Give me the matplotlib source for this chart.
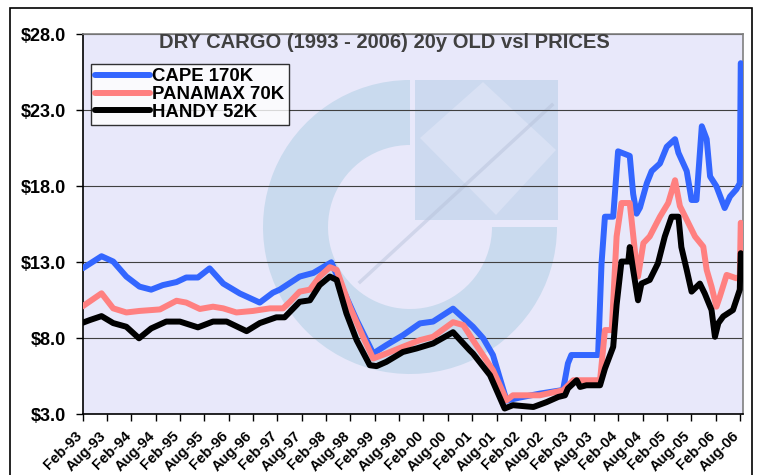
import matplotlib

matplotlib.use("Agg")
import matplotlib.pyplot as plt
from matplotlib.patches import Wedge, Rectangle, Polygon
from matplotlib.transforms import IdentityTransform, ScaledTranslation

# decimal years
CAPE_T = [1993.08, 1993.47, 1993.71, 1993.98, 1994.25, 1994.49, 1994.73, 1995.01, 1995.21, 1995.45,
          1995.69, 1995.97, 1996.31, 1996.72, 1996.99, 1997.13, 1997.54, 1997.82, 1998.19, 1998.43,
          1998.71, 1999.05, 1999.32, 1999.66, 2000.01, 2000.28, 2000.69, 2001.10, 2001.31, 2001.51,
          2001.79, 2002.06, 2002.47, 2002.95, 2003.05, 2003.12, 2003.67, 2003.74, 2003.81, 2003.98,
          2004.08, 2004.32, 2004.39, 2004.46, 2004.53, 2004.67, 2004.77, 2004.94, 2005.08, 2005.25,
          2005.32, 2005.49, 2005.59, 2005.69, 2005.80, 2005.90, 2005.97, 2006.10, 2006.27, 2006.38,
          2006.51, 2006.58, 2006.60]
CAPE_V = [12.6, 13.4, 13.05, 12.06, 11.4, 11.2, 11.5, 11.7, 12.0, 12.0,
          12.6, 11.6, 10.95, 10.35, 11.0, 11.2, 12.06, 12.3, 13.0, 11.2,
          9.2, 7.0, 7.55, 8.2, 8.98, 9.1, 9.95, 8.76, 8.0, 6.9,
          3.9, 4.1, 4.36, 4.6, 6.35, 6.9, 6.9, 12.9, 16.0, 16.0,
          20.3, 20.0, 17.5, 16.2, 16.6, 18.2, 19.0, 19.5, 20.6, 21.1,
          20.2, 19.0, 17.1, 17.1, 21.95, 21.1, 18.65, 18.0, 16.57, 17.33,
          17.8, 18.2, 26.1]

PANAMAX_T = [1993.08, 1993.47, 1993.71, 1993.98, 1994.25, 1994.67, 1995.01, 1995.21, 1995.49, 1995.76,
             1995.97, 1996.24, 1996.58, 1996.93, 1997.20, 1997.34, 1997.54, 1997.75, 1997.95, 1998.16,
             1998.30, 1998.57, 1998.84, 1999.05, 1999.32, 1999.66, 2000.01, 2000.28, 2000.69, 2000.90,
             2001.10, 2001.51, 2001.79, 2001.92, 2002.47, 2002.95, 2003.16, 2003.71, 2003.77, 2003.81,
             2003.95, 2004.05, 2004.15, 2004.32, 2004.43, 2004.49, 2004.60, 2004.73, 2004.94, 2005.11,
             2005.25, 2005.35, 2005.49, 2005.66, 2005.83, 2005.90, 2006.00, 2006.10, 2006.17, 2006.31,
             2006.51, 2006.58, 2006.60]
PANAMAX_V = [10.1, 10.96, 9.97, 9.7, 9.8, 9.9, 10.47, 10.35, 9.93, 10.08,
             9.97, 9.7, 9.8, 9.97, 9.97, 10.4, 11.07, 11.2, 12.06, 12.68,
             12.5, 10.08, 8.1, 6.67, 7.0, 7.44, 7.88, 8.1, 9.06, 8.87,
             7.88, 5.9, 3.92, 4.25, 4.25, 4.58, 5.24, 5.24, 7.2, 8.54,
             8.54, 14.7, 16.9, 16.9, 13.6, 12.06, 14.26, 14.7, 16.0, 16.9,
             18.4, 16.7, 15.8, 14.7, 14.03, 12.5, 11.4, 10.08, 10.74, 12.17,
             11.95, 12.06, 15.6]

HANDY_T = [1993.08, 1993.23, 1993.47, 1993.71, 1993.98, 1994.24, 1994.49, 1994.80, 1995.08, 1995.45,
           1995.76, 1996.04, 1996.45, 1996.72, 1997.06, 1997.23, 1997.54, 1997.75, 1997.95, 1998.16,
           1998.30, 1998.50, 1998.71, 1998.98, 1999.12, 1999.32, 1999.66, 1999.94, 2000.28, 2000.69,
           2001.03, 2001.10, 2001.45, 2001.75, 2001.92, 2002.34, 2002.61, 2002.85, 2002.99, 2003.05,
           2003.23, 2003.30, 2003.43, 2003.71, 2003.81, 2003.98, 2004.05, 2004.15, 2004.29, 2004.32,
           2004.39, 2004.49, 2004.56, 2004.73, 2004.90, 2005.04, 2005.18, 2005.32, 2005.38, 2005.49,
           2005.59, 2005.76, 2005.86, 2006.00, 2006.07, 2006.14, 2006.24, 2006.44, 2006.58, 2006.60]
HANDY_V = [9.02, 9.2, 9.46, 9.0, 8.76, 8.0, 8.65, 9.1, 9.1, 8.72,
           9.1, 9.1, 8.47, 9.0, 9.38, 9.38, 10.4, 10.5, 11.5, 12.06,
           11.84, 9.64, 7.88, 6.23, 6.17, 6.45, 7.1, 7.33, 7.66, 8.4,
           7.22, 7.0, 5.57, 3.38, 3.6, 3.48, 3.8, 4.14, 4.25, 4.7,
           5.24, 4.8, 4.91, 4.91, 6.0, 7.44, 10.2, 13.05, 13.05, 14.0,
           12.5, 10.5, 11.6, 11.84, 12.94, 14.7, 16.0, 16.0, 14.0, 12.5,
           11.07, 11.6, 10.95, 9.86, 8.1, 9.0, 9.44, 9.86, 11.2, 13.6]

YEARS = list(range(1993, 2007))
Y_TICKS = [3.0, 8.0, 13.0, 18.0, 23.0, 28.0]

SERIES = [
    ("CAPE 170K", CAPE_T, CAPE_V, "#3366FF"),
    ("PANAMAX 70K", PANAMAX_T, PANAMAX_V, "#FF8080"),
    ("HANDY 52K", HANDY_T, HANDY_V, "#000000"),
]

plt.rcParams["font.family"] = ["Liberation Sans", "DejaVu Sans"]
plt.rcParams["font.weight"] = "bold"

fig = plt.figure(figsize=(7.6, 4.75), dpi=100)
fig.patch.set_facecolor("white")
fig.patches.append(Rectangle((10 / 760, -0.05), 742 / 760, 1.05 - 8 / 475, transform=fig.transFigure,
                             fill=False, edgecolor="black", linewidth=1.2))

ax = fig.add_axes([82.7 / 760, 1 - 414.3 / 475, 660 / 760, 380 / 475])
ax.set_facecolor("#E8E8FA")

# faded logo watermark, drawn in pixel space
H = 475
ident = IdentityTransform()
ax.add_patch(Wedge((410, H - 227), 147, 90, 360, width=65, transform=ident,
                   facecolor="#C9DAEE", edgecolor="none", zorder=0.2))
ax.add_patch(Rectangle((415, H - 220), 143, 140, transform=ident,
                       facecolor="#CCD9EF", edgecolor="none", zorder=0.2))
ax.add_patch(Polygon([(483, H - 82), (556, H - 150), (496, H - 215), (420, H - 138)], closed=True,
                     transform=ident, facecolor="#D9E1F4", edgecolor="none", zorder=0.25))
ax.plot([360, 552], [H - 282, H - 105], transform=ident, color="#B4BFD8", linewidth=2.5,
        alpha=0.45, zorder=0.3)

for label, t, v, color in SERIES:
    ax.plot(t, v, color=color, linewidth=4.3, solid_joinstyle="round", solid_capstyle="round",
            label=label, zorder=3)

ax.set_xlim(1993 + 1 / 12, 2006.64)
ax.set_ylim(3.0, 28.0)

xt, xl = [], []
for y in YEARS:
    for mo, name in ((1, "Feb"), (7, "Aug")):
        xt.append(y + mo / 12)
        xl.append(f"{name}-{str(y)[2:]}")
ax.set_xticks(xt)
ax.set_xticklabels(xl, rotation=45, ha="right", va="baseline", rotation_mode="anchor",
                   fontsize=10.5, fontweight="bold")
shift = ScaledTranslation(-3 / 72, 0, fig.dpi_scale_trans)
for lbl in ax.get_xticklabels():
    lbl.set_transform(lbl.get_transform() + shift)
ax.set_yticks(Y_TICKS)
ax.set_yticklabels([f"${v:.1f}" for v in Y_TICKS], fontsize=13, fontweight="bold")
ax.tick_params(axis="y", length=5, width=1, pad=7)
ax.tick_params(axis="x", length=5, width=1, pad=11)

ax.yaxis.grid(True, color="#404040", linewidth=0.8)
ax.set_axisbelow(True)
for side in ("left", "bottom"):
    ax.spines[side].set_color("black")
    ax.spines[side].set_linewidth(1.2)
for side in ("top", "right"):
    ax.spines[side].set_color("#808080")
    ax.spines[side].set_linewidth(1.2)

leg = ax.legend(loc="upper left", bbox_to_anchor=(0.012, 0.922), fontsize=13.4, frameon=True,
                fancybox=False, borderpad=0.22, labelspacing=0.05, handlelength=2.95,
                handletextpad=0.15, borderaxespad=0)
leg.get_frame().set_edgecolor("black")
leg.get_frame().set_linewidth(1.0)
for txt in leg.get_texts():
    txt.set_fontweight("bold")

fig.text(384 / 760, 1 - 43 / 475, "DRY CARGO (1993 - 2006) 20y OLD vsl PRICES", ha="center", va="center",
         fontsize=14.5, fontweight="bold", color="#404040")

fig.savefig("out.png", dpi=100)
